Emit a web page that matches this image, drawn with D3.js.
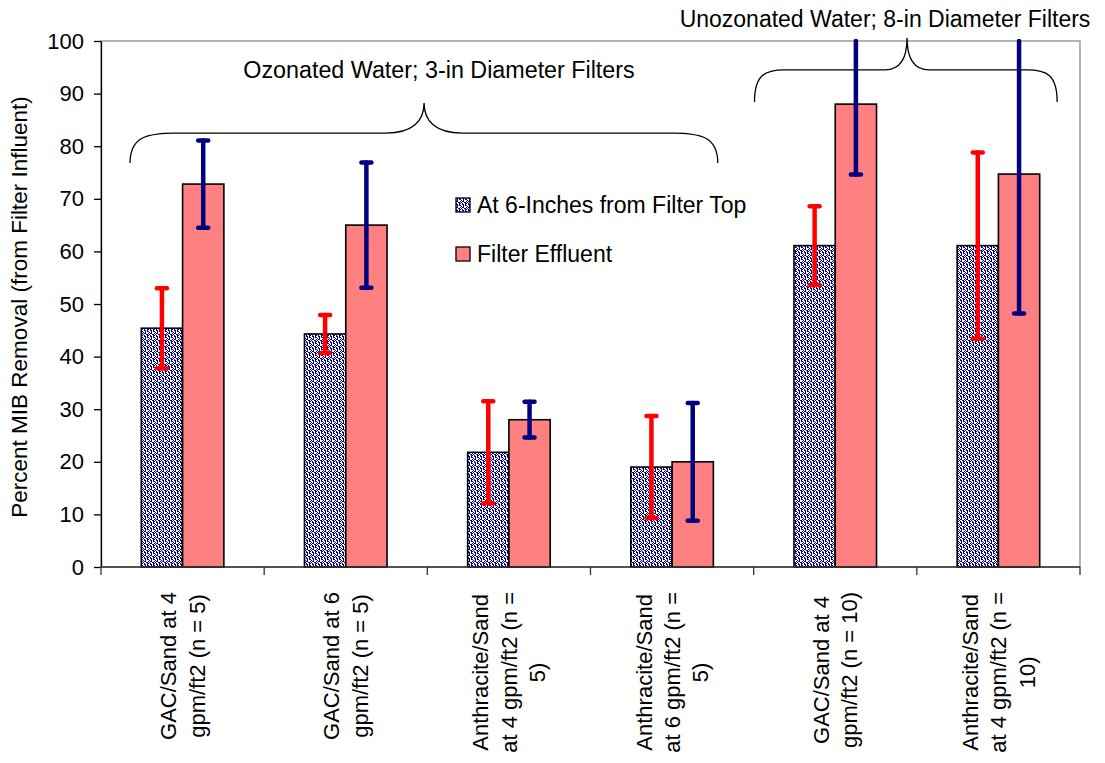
<!DOCTYPE html>
<html>
<head>
<meta charset="utf-8">
<script src="https://cdn.jsdelivr.net/npm/d3@7"></script>
<style>
  html, body { margin: 0; padding: 0; background: #fff; }
  svg { display: block; font-family: "Liberation Sans", Arial, sans-serif; }
</style>
</head>
<body>
<svg id="chart" width="1105" height="763"></svg>
<script>
// ---- data ----
const categories = [
  ["GAC/Sand at 4", "gpm/ft2 (n = 5)"],
  ["GAC/Sand at 6", "gpm/ft2 (n = 5)"],
  ["Anthracite/Sand", "at 4 gpm/ft2 (n =", "5)"],
  ["Anthracite/Sand", "at 6 gpm/ft2 (n =", "5)"],
  ["GAC/Sand at 4", "gpm/ft2 (n = 10)"],
  ["Anthracite/Sand", "at 4 gpm/ft2 (n =", "10)"]
];
const seriesNames = ["At 6-Inches from Filter Top", "Filter Effluent"];
const at6in       = [45.4, 44.3, 21.8, 19.0, 61.1, 61.1];
const at6inErr    = [7.6, 3.6, 9.7, 9.7, 7.5, 17.7];
const effluent    = [72.8, 65.0, 28.0, 20.0, 88.0, 74.7];
const effluentErr = [8.3, 11.9, 3.4, 11.2, 13.4, 26.5];
const yTicks = [0, 10, 20, 30, 40, 50, 60, 70, 80, 90, 100];
const yTitle = "Percent MIB Removal (from Filter Influent)";
const groupNotes = ["Ozonated Water; 3-in Diameter Filters", "Unozonated Water; 8-in Diameter Filters"];

// ---- layout ----
const svg = d3.select("#chart");
const L = 101, R = 1080, T = 41, B = 567;
const x0 = d3.scaleBand().domain(d3.range(categories.length)).range([L, R]).padding(0);
const y = d3.scaleLinear().domain([0, 100]).range([B, T]);
const barW = x0.bandwidth() * 0.253;
const xc = i => x0(i) + x0.bandwidth() / 2;
const xu = u => L + u * x0.bandwidth(); // position in category units

// pattern
const defs = svg.append("defs");
const pat = defs.append("pattern").attr("id", "dots").attr("patternUnits", "userSpaceOnUse")
  .attr("width", 6).attr("height", 6);
pat.append("rect").attr("width", 6).attr("height", 6).attr("fill", "#fff");
[[0,0,2,1],[3,0,1,1],[3,1,2,1],[1,2,1,1],[5,2,1,1],[0,3,2,1],[4,3,1,1],[2,4,2,1],[5,4,1,1],[0,5,1,1],[3,5,2,1],[1,1,1,1]].forEach(r =>
  pat.append("rect").attr("x", r[0]).attr("y", r[1]).attr("width", r[2]).attr("height", r[3]).attr("fill", "#000080"));
defs.append("clipPath").attr("id", "plotclip").append("rect")
  .attr("x", L - 20).attr("y", T - 2).attr("width", R - L + 40).attr("height", B - T + 30);

// plot area border
svg.append("rect").attr("x", L).attr("y", T).attr("width", R - L).attr("height", B - T)
  .attr("fill", "none").attr("stroke", "#8c8c8c").attr("stroke-width", 1.3);

// bars
const series = [
  { vals: at6in, err: at6inErr, fill: "url(#dots)", errColor: "#ff0000", off: -1 },
  { vals: effluent, err: effluentErr, fill: "#ff8080", errColor: "#000080", off: 0 }
];
series.forEach(s => {
  svg.append("g").selectAll("rect").data(s.vals).join("rect")
    .attr("x", (d, i) => xc(i) + s.off * barW)
    .attr("y", d => y(d))
    .attr("width", barW)
    .attr("height", d => B - y(d))
    .attr("fill", s.fill)
    .attr("stroke", "#000").attr("stroke-width", 1.6);
});

// error bars
const eg = svg.append("g").attr("clip-path", "url(#plotclip)");
series.forEach(s => {
  s.vals.forEach((v, i) => {
    const cx = xc(i) + s.off * barW + barW / 2;
    const hi = v + s.err[i], lo = v - s.err[i];
    const yHi = y(Math.min(hi, 100));
    eg.append("line").attr("x1", cx).attr("x2", cx).attr("y1", yHi).attr("y2", y(lo))
      .attr("stroke", s.errColor).attr("stroke-width", 4.5).attr("stroke-linecap", "round");
    [hi, lo].forEach(e => {
      if (e <= 100) {
        eg.append("line").attr("x1", cx - 5).attr("x2", cx + 5).attr("y1", y(e)).attr("y2", y(e))
          .attr("stroke", s.errColor).attr("stroke-width", 4.5).attr("stroke-linecap", "round");
      }
    });
  });
});

// y axis
const yAxis = svg.append("g").attr("transform", `translate(${L},0)`)
  .call(d3.axisLeft(y).tickValues(yTicks).tickSize(7).tickSizeOuter(0).tickPadding(10));
yAxis.select(".domain").attr("stroke", "#000").attr("stroke-width", 1.3);
yAxis.selectAll(".tick line").attr("stroke", "#000").attr("stroke-width", 1.3);
yAxis.selectAll(".tick text").attr("font-size", 22).attr("fill", "#000")
  .attr("font-family", '"Liberation Sans", Arial, sans-serif');

// x axis line + boundary ticks
svg.append("line").attr("x1", L).attr("x2", R).attr("y1", B).attr("y2", B)
  .attr("stroke", "#333").attr("stroke-width", 1.3);
svg.append("g").selectAll("line").data(d3.range(categories.length + 1)).join("line")
  .attr("x1", d => xu(d)).attr("x2", d => xu(d)).attr("y1", B).attr("y2", B + 8)
  .attr("stroke", "#333").attr("stroke-width", 1.3);

// category labels
const lineH = 28.5;
categories.forEach((lines, i) => {
  const g = svg.append("g").attr("transform", `translate(${xc(i)},${B + 25}) rotate(-90)`);
  const texts = lines.map((ln, k) => g.append("text").text(ln)
    .attr("font-size", 22).attr("fill", "#000").attr("text-anchor", "middle")
    .attr("y", (k - (lines.length - 1) / 2) * lineH).attr("dy", "0.36em"));
  const maxW = d3.max(texts, t => t.node().getComputedTextLength());
  texts.forEach(t => t.attr("x", -maxW / 2));
});

// y title
svg.append("text").attr("transform", `translate(27,${(T + B) / 2 + 3}) rotate(-90)`)
  .attr("text-anchor", "middle").attr("font-size", 22.5).attr("fill", "#000").text(yTitle);

// legend
const lg = svg.append("g");
seriesNames.forEach((nm, k) => {
  const yy = 213 + k * 49;
  lg.append("rect").attr("x", 456).attr("y", yy - 15).attr("width", 14).attr("height", 14)
    .attr("fill", series[k].fill).attr("stroke", "#000").attr("stroke-width", 1.3);
  lg.append("text").attr("x", 477).attr("y", yy).attr("font-size", 23).attr("fill", "#000").text(nm);
});

// braces + group annotations
function brace(u0, um, u1, vE, vH, vT, rx, mx) {
  const x0p = xu(u0), xm = xu(um), x1p = xu(u1);
  const yE = y(vE), yH = y(vH), yT = y(vT);
  const p = d3.path();
  p.moveTo(x0p, yE);
  p.bezierCurveTo(x0p, yH + (yE - yH) * 0.15, x0p + rx * 0.35, yH, x0p + rx, yH);
  p.lineTo(xm - mx, yH);
  p.bezierCurveTo(xm - mx * 0.3, yH, xm, yH - (yH - yT) * 0.4, xm, yT);
  p.bezierCurveTo(xm, yH - (yH - yT) * 0.4, xm + mx * 0.3, yH, xm + mx, yH);
  p.lineTo(x1p - rx, yH);
  p.bezierCurveTo(x1p - rx * 0.35, yH, x1p, yH + (yE - yH) * 0.15, x1p, yE);
  svg.append("path").attr("d", p.toString()).attr("fill", "none").attr("stroke", "#000").attr("stroke-width", 1.3);
}
brace(0.178, 1.98, 3.78, 76.8, 82.5, 88.2, 45, 38);
brace(4.005, 4.94, 5.86, 88.4, 94.5, 100.6, 30, 22);

svg.append("text").attr("x", 439).attr("y", 78).attr("text-anchor", "middle")
  .attr("font-size", 23.3).attr("fill", "#000").text(groupNotes[0]);
svg.append("text").attr("x", 885).attr("y", 27).attr("text-anchor", "middle")
  .attr("font-size", 23).attr("fill", "#000").text(groupNotes[1]);
</script>
</body>
</html>
